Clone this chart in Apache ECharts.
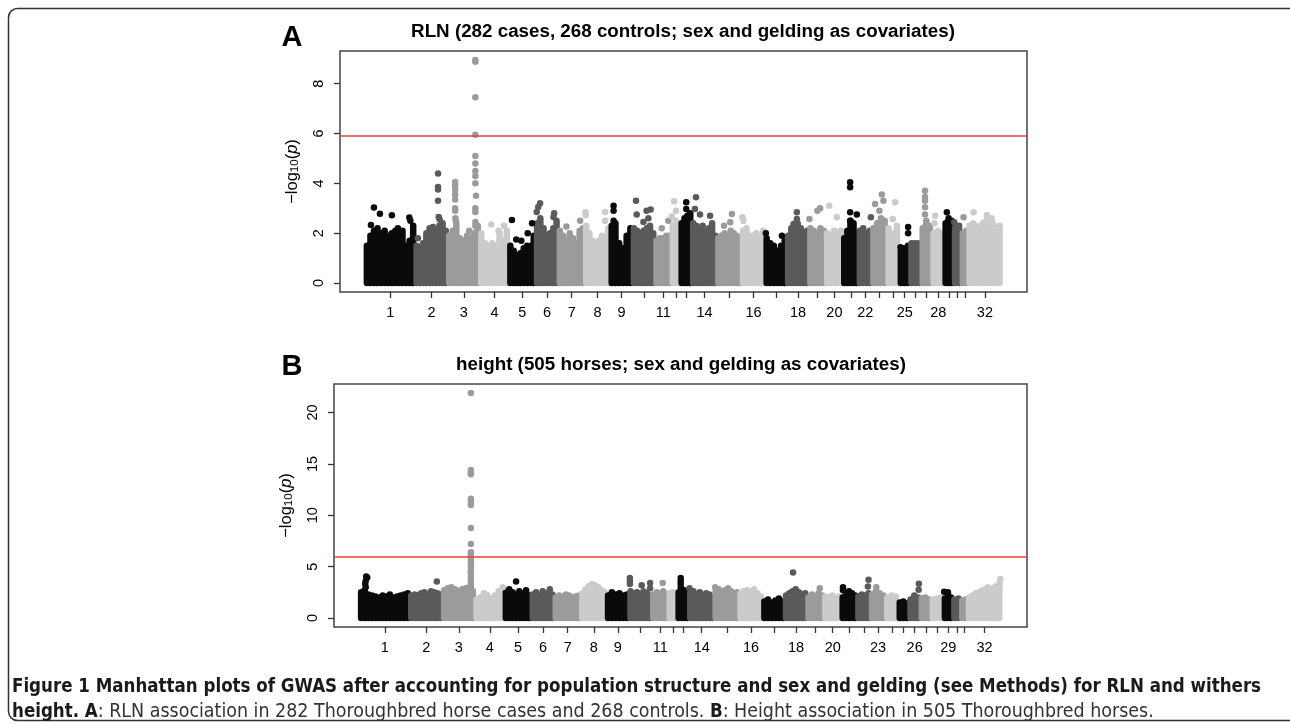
<!DOCTYPE html>
<html><head><meta charset="utf-8">
<script src="https://cdn.jsdelivr.net/npm/echarts@6/dist/echarts.min.js"></script>
<style>html,body{margin:0;padding:0;background:#fff;}#c{width:1290px;height:725px;}</style>
</head><body><div id="c"></div>
<script>
// ---------- data ----------
const chromLabels = ['1','2','3','4','5','6','7','8','9','10','11','12','13','14','15','16','17','18','19','20','21','22','23','24','25','26','27','28','29','30','31','32'];
const chromLenMb = [185.8,120.9,119.5,108.6,99.7,84.7,98.5,94.1,83.6,83.9,61.3,33.1,42.6,93.9,91.6,87.4,80.8,82.5,62.4,64.2,57.7,50.0,55.7,46.7,39.5,41.9,40.0,46.2,33.7,30.1,25.0,124.1];
const labeledA = [1,2,3,4,5,6,7,8,9,11,14,16,18,20,22,25,28,32];
const labeledB = [1,2,3,4,5,6,7,8,9,11,14,16,18,20,23,26,29,32];
const yTicksA = [0,2,4,6,8];
const yTicksB = [0,5,10,15,20];
const thresholdA = 5.93;
const thresholdB = 5.93;
const titleA = 'RLN (282 cases, 268 controls; sex and gelding as covariates)';
const titleB = 'height (505 horses; sex and gelding as covariates)';
const captionLine1 = 'Figure 1 Manhattan plots of GWAS after accounting for population structure and sex and gelding (see Methods) for RLN and withers';
const captionLine2 = [['b','height. A'],['r',': RLN association in 282 Thoroughbred horse cases and 268 controls. '],['b','B'],['r',': Height association in 505 Thoroughbred horses.']];

// dense cloud tops per chromosome (-log10 p), panel A
const rlnBase = [
 [1.5,1.9,2.1,2.2,2.0,2.1,1.9,2.0,2.1,2.0,2.1,1.5,1.7,2.3],
 [1.5,1.45,1.6,2.0,2.2,2.25,2.1,2.3,2.4,2.1],
 [1.9,2.1,2.4,1.8,1.7,1.9,1.8,2.0,2.3],
 [2.0,1.6,1.5,1.6,1.5,2.0,1.7,2.1],
 [1.5,1.3,1.1,1.2,1.4,1.5,1.5,1.9],
 [2.4,2.5,2.2,1.9,2.0,2.2,2.5],
 [2.1,1.9,1.7,2.0,1.8,1.6,2.1,2.2],
 [2.3,2.0,1.7,1.6,1.7,1.9,1.8,2.2],
 [2.3,2.4,1.6,1.4,1.9,2.2],
 [2.2,2.1,2.0,2.1,2.2,2.3,2.0],
 [1.7,1.8,1.8,1.9,1.9],
 [2.3,2.5,2.2],
 [2.4,2.6,2.7,2.8],
 [2.4,2.3,2.2,2.3,2.0,2.2,2.4,1.9],
 [1.8,1.9,2.0,1.9,2.1,2.0,1.9,1.8],
 [2.1,2.2,1.9,1.9,2.0,1.9,2.1],
 [1.8,1.6,1.5,1.3,1.5,1.7],
 [1.9,2.2,2.3,2.4,2.2,2.0,2.1],
 [2.2,2.1,2.0,2.2,2.1],
 [2.0,1.9,2.1,2.0,2.1],
 [1.8,2.1,2.5,2.4,2.0],
 [2.1,2.2,2.0,2.1],
 [2.2,2.4,2.6,2.5],
 [2.2,2.0,2.3],
 [1.3,1.4,1.5],
 [1.6,1.6,1.6],
 [2.2,2.5,2.3],
 [2.0,2.1,2.0],
 [2.4,2.6,2.5],
 [2.2,2.3],
 [2.0,2.1],
 [2.3,2.4,2.3,2.2,2.4,2.5,2.3,2.4,2.2,2.3]
];
// individual SNPs above the cloud: [chromosome, position fraction, -log10 p], panel A
const rlnPeaks = [
 [1,0.17,3.03],[1,0.29,2.78],[1,0.53,2.72],[1,0.11,2.33],[1,0.65,2.2],[1,0.88,2.63],[1,0.9,2.5],
 [2,0.7,4.4],[2,0.7,3.85],[2,0.7,3.75],[2,0.7,3.3],[2,0.72,2.65],[2,0.75,2.55],[2,0.08,1.8],
 [3,0.23,4.05],[3,0.23,3.9],[3,0.23,3.75],[3,0.23,3.55],[3,0.23,3.35],[3,0.23,3.0],[3,0.23,2.9],[3,0.24,2.6],[3,0.25,2.5],[3,0.67,2.1],
 [3,0.86,8.95],[3,0.86,8.88],[3,0.86,7.45],[3,0.86,5.95],[3,0.86,5.1],[3,0.86,4.8],[3,0.86,4.5],[3,0.86,4.3],[3,0.86,4.0],[3,0.88,3.5],[3,0.86,3.0],[3,0.86,2.85],[3,0.86,2.45],[3,0.86,2.3],
 [4,0.39,2.35],[4,0.83,2.3],[4,0.64,2.1],
 [5,0.11,2.53],[5,0.27,1.75],[5,0.46,1.7],[5,0.7,2.0],[5,0.86,2.4],
 [6,0.19,3.2],[6,0.11,3.05],[6,0.04,2.85],[6,0.2,2.6],[6,0.81,2.8],[6,0.78,2.65],
 [7,0.3,2.27],[7,0.82,2.5],
 [8,0.02,2.84],[8,0.03,2.72],[8,0.8,2.85],[8,0.8,2.5],
 [9,0.15,3.1],[9,0.15,2.9],[9,0.15,2.5],
 [10,0.15,3.3],[10,0.18,2.75],[10,0.62,2.9],[10,0.8,2.95],[10,0.7,2.6],[10,0.48,2.45],
 [11,0.4,2.2],[11,0.8,2.5],
 [12,0.28,3.28],[12,0.02,2.67],[12,0.5,2.9],
 [13,0.5,3.24],[13,0.5,2.97],
 [14,0.16,3.44],[14,0.12,2.97],[14,0.32,2.75],[14,0.72,2.7],
 [15,0.6,2.77],[15,0.53,2.44],[15,0.28,2.3],
 [16,0.03,2.64],[16,0.07,2.5],
 [17,0.03,2.0],[17,0.77,1.9],
 [18,0.45,2.84],[18,0.45,2.57],[18,0.3,2.37],
 [19,0.66,3.0],[19,0.5,2.9],[19,0.02,2.57],
 [20,0.2,3.1],[20,0.64,2.64],
 [21,0.46,4.04],[21,0.46,3.84],[21,0.46,2.84],[21,0.46,2.5],[21,0.89,2.75],
 [22,0.92,2.64],
 [23,0.21,3.17],[23,0.66,3.55],[23,0.77,3.3],[23,0.5,2.9],
 [24,0.66,3.24],[24,0.47,2.57],
 [25,0.1,1.44],[25,0.82,2.25],[25,0.82,2.0],
 [27,0.35,3.7],[27,0.35,3.45],[27,0.35,3.3],[27,0.35,3.04],[27,0.35,2.75],
 [28,0.25,2.7],[28,0.2,2.4],
 [29,0.27,2.84],[29,0.45,2.5],
 [30,0.1,2.44],
 [31,0.3,2.64],
 [32,0.16,2.84],[32,0.56,2.73],[32,0.7,2.6]
];
// panel B
const heightBase = [
 [2.5,2.7,2.3,2.2,2.1,2.0,2.2,2.1,2.3,2.0,2.1,2.2,2.3,2.4],
 [2.2,2.3,2.2,2.4,2.5,2.3,2.6,2.5,2.4,2.3],
 [2.7,2.9,3.0,2.8,2.6,2.8,2.9,3.0,2.6],
 [1.8,2.0,2.4,2.0,1.9,2.2,2.6,2.3],
 [2.6,2.8,2.5,2.3,2.6,2.4,2.7,2.2],
 [2.3,2.5,2.2,2.6,2.4,2.2,2.3],
 [2.0,2.2,2.1,2.3,2.2,2.0,2.1,2.2],
 [2.4,2.8,3.1,3.3,3.2,3.0,2.7,2.5],
 [2.2,2.5,2.3,2.4,2.2,2.3],
 [2.6,2.4,2.5,2.3,2.6,2.4,2.2],
 [2.3,2.5,2.4,2.6,2.3],
 [2.4,2.5,2.2],
 [2.5,2.8,2.7,2.6],
 [2.4,2.6,2.3,2.5,2.2,2.4,2.3,2.1],
 [2.6,2.8,2.5,2.7,2.9,2.6,2.4,2.5],
 [2.4,2.6,2.7,2.5,2.8,2.4,2.1],
 [1.6,1.8,1.5,1.7,1.9,1.6],
 [2.2,2.4,2.6,2.8,2.5,2.3,2.4],
 [2.0,2.3,2.1,2.4,2.2],
 [2.1,2.0,2.2,1.9,2.1],
 [2.0,2.3,2.6,2.4,2.2],
 [2.1,2.3,2.2,2.4],
 [2.3,2.6,2.4,2.2],
 [2.0,2.2,2.1],
 [1.5,1.6,1.4],
 [1.8,2.2,2.0],
 [1.9,2.0,1.8],
 [1.8,1.9,2.0],
 [1.9,2.5,2.0],
 [1.8,1.9],
 [1.7,1.8],
 [2.0,2.2,2.4,2.5,2.7,2.8,2.6,2.9,3.1,3.2]
];
const heightPeaks = [
 [1,0.13,4.05],[1,0.15,3.95],[1,0.12,3.6],[1,0.11,3.3],[1,0.12,3.0],[1,0.1,2.7],
 [2,0.82,3.56],
 [3,0.87,21.9],[3,0.87,14.4],[3,0.87,14.2],[3,0.87,14.0],[3,0.87,11.6],[3,0.87,11.3],[3,0.87,11.0],[3,0.87,8.75],[3,0.87,7.2],[3,0.87,6.4],[3,0.87,6.1],[3,0.87,5.9],[3,0.87,5.6],[3,0.87,5.3],[3,0.87,5.0],[3,0.87,4.6],[3,0.87,4.3],[3,0.87,4.0],[3,0.87,3.6],[3,0.87,3.3],[3,0.87,3.0],
 [4,0.4,2.25],[4,0.94,3.0],
 [5,0.43,3.56],
 [6,0.8,2.8],
 [10,0.03,3.9],[10,0.03,3.6],[10,0.03,3.3],[10,0.55,3.2],[10,0.92,3.4],[10,0.92,2.9],
 [11,0.65,3.4],
 [13,0.28,3.9],[13,0.28,3.6],[13,0.28,3.3],[13,0.28,3.0],
 [14,0.02,2.9],
 [15,0.03,3.0],
 [18,0.37,4.44],
 [19,0.75,2.9],
 [21,0.1,3.0],[21,0.1,2.7],
 [22,0.85,3.72],[22,0.8,3.07],
 [23,0.38,3.0],
 [26,0.87,3.33],[26,0.85,2.75],
 [29,0.05,2.55],
 [32,0.6,3.0],[32,0.95,3.5],[32,0.97,3.8]
];

// ---------- layout helpers ----------
const palette = ['#0a0a0a','#5a5a5a','#9b9b9b','#cbcbcb'];
const DOT = 6.5;
const starts = [];
let acc = 0;
chromLenMb.forEach(l => { starts.push(acc); acc += l; });
const total = acc;
const mids = chromLenMb.map((l,i) => starts[i] + l/2);
const xMin = -0.04*total, xMax = total*1.04;

function baseData(base){
  const out = [];
  base.forEach((arr,ci) => {
    const n = arr.length;
    arr.forEach((v,k) => out.push([starts[ci] + chromLenMb[ci]*(k+0.4)/n, v, ci]));
  });
  return out;
}
function peakData(peaks){
  return peaks.map(p => [starts[p[0]-1] + chromLenMb[p[0]-1]*p[1], p[2], p[0]-1]);
}
function renderCol(params, api){
  const x = api.value(0), v = api.value(1), c = api.value(2);
  const p0 = api.coord([x, 0]), p1 = api.coord([x, v]);
  return {type:'line', shape:{x1:p0[0],y1:p0[1],x2:p1[0],y2:p1[1]},
    style:{stroke: palette[c%4], lineWidth: DOT, lineCap:'round'}};
}
function labelFor(v){
  let best = 0, bd = Infinity;
  mids.forEach((m,i)=>{ const d = Math.abs(m-v); if(d<bd){bd=d;best=i;} });
  return chromLabels[best];
}
const FONT = 'Liberation Sans, Arial, Helvetica, sans-serif';
const TICKFS = 14.5;
function xAxisCfg(gi, labeled){
  return {type:'value', gridIndex:gi, min:xMin, max:xMax,
    axisLine:{show:false, onZero:false}, splitLine:{show:false},
    axisTick:{show:true, customValues: mids, length:6, lineStyle:{color:'#333', width:1.3}},
    axisLabel:{show:true, customValues: labeled.map(c=>mids[c-1]), formatter: v=>labelFor(v),
      margin:13, fontSize:TICKFS, color:'#000', fontFamily:FONT}};
}
function yAxisCfg(gi, min, max, ticks, gap){
  return {type:'value', gridIndex:gi, min:min, max:max,
    axisLine:{show:false, onZero:false}, splitLine:{show:false},
    axisTick:{show:true, customValues: ticks, length:6, lineStyle:{color:'#333', width:1.3}},
    axisLabel:{show:true, customValues: ticks, rotate:90, margin:14, fontSize:TICKFS, color:'#000', fontFamily:FONT},
    name:'{a|\u2212log}{s|10}{a|(}{i|p}{a|)}', nameLocation:'middle', nameRotate:90, nameGap:gap,
    nameTextStyle:{rich:{
      a:{fontSize:16.5, color:'#000', fontFamily:FONT},
      s:{fontSize:11.5, color:'#000', fontFamily:FONT, verticalAlign:'bottom', lineHeight:15},
      i:{fontSize:16.5, color:'#000', fontFamily:FONT, fontStyle:'italic'}}}};
}
function thresholdLine(v){
  return {silent:true, symbol:'none', label:{show:false},
    lineStyle:{color:'#e8413c', width:1.5, type:'solid'}, data:[{yAxis:v}]};
}

// caption font sizing to the figure width
const CAPFAM = '"DejaVu Sans Condensed", "Liberation Sans", sans-serif';
const mctx = document.createElement('canvas').getContext('2d');
function tw(weight, size, s){ mctx.font = weight+' '+size+'px '+CAPFAM; return mctx.measureText(s).width; }
const capBold = 100 * 1250 / tw('bold', 100, captionLine1);
const boldPart = tw('bold', capBold, 'height. A');
const regPrefix = ': RLN association in 282 Thoroughbred horse cases and 268 co';
const capReg = 100 * (638 - boldPart) / tw('normal', 100, regPrefix);

const chart = echarts.init(document.getElementById('c'), null, {renderer:'canvas'});
chart.setOption({
  animation:false,
  backgroundColor:'#fff',
  grid:[
    {left:340, top:51, width:687, height:241, show:true, borderColor:'#444', borderWidth:1.5},
    {left:334, top:384, width:693, height:243, show:true, borderColor:'#444', borderWidth:1.5}
  ],
  xAxis:[xAxisCfg(0, labeledA), xAxisCfg(1, labeledB)],
  yAxis:[yAxisCfg(0, -0.358, 9.31, yTicksA, 39), yAxisCfg(1, -0.876, 22.78, yTicksB, 39)],
  series:[
    {type:'custom', xAxisIndex:0, yAxisIndex:0, renderItem:renderCol, data:baseData(rlnBase), encode:{x:0,y:1}, silent:true},
    {type:'scatter', xAxisIndex:0, yAxisIndex:0, symbolSize:DOT, data:peakData(rlnPeaks),
      itemStyle:{color:p=>palette[p.data[2]%4], opacity:1}, silent:true, markLine:thresholdLine(thresholdA)},
    {type:'custom', xAxisIndex:1, yAxisIndex:1, renderItem:renderCol, data:baseData(heightBase), encode:{x:0,y:1}, silent:true},
    {type:'scatter', xAxisIndex:1, yAxisIndex:1, symbolSize:DOT, data:peakData(heightPeaks),
      itemStyle:{color:p=>palette[p.data[2]%4], opacity:1}, silent:true, markLine:thresholdLine(thresholdB)}
  ],
  graphic:[
    {type:'rect', shape:{x:8.5, y:8.5, width:1290, height:712, r:9}, style:{fill:'none', stroke:'#333', lineWidth:1.5}, silent:true},
    {type:'text', x:292, y:38, style:{text:'A', font:'bold 29px '+FONT, fill:'#000', align:'center', verticalAlign:'middle'}},
    {type:'text', x:292, y:367, style:{text:'B', font:'bold 29px '+FONT, fill:'#000', align:'center', verticalAlign:'middle'}},
    {type:'text', x:683, y:32, style:{text:titleA, font:'bold 18.8px '+FONT, fill:'#000', align:'center', verticalAlign:'middle'}},
    {type:'text', x:681, y:365, style:{text:titleB, font:'bold 18.8px '+FONT, fill:'#000', align:'center', verticalAlign:'middle'}},
    {type:'text', x:12, y:687, style:{
      text:'{b|'+captionLine1+'}',
      rich:{b:{font:'bold '+capBold.toFixed(2)+'px '+CAPFAM, fill:'#1a1a1a'}},
      verticalAlign:'middle'}},
    {type:'text', x:12, y:712, style:{
      text: captionLine2.map(p => '{'+p[0]+'|'+p[1]+'}').join(''),
      rich:{b:{font:'bold '+capBold.toFixed(2)+'px '+CAPFAM, fill:'#1a1a1a'},
            r:{font:capReg.toFixed(2)+'px '+CAPFAM, fill:'#333'}},
      verticalAlign:'middle'}}
  ]
});
</script></body></html>
